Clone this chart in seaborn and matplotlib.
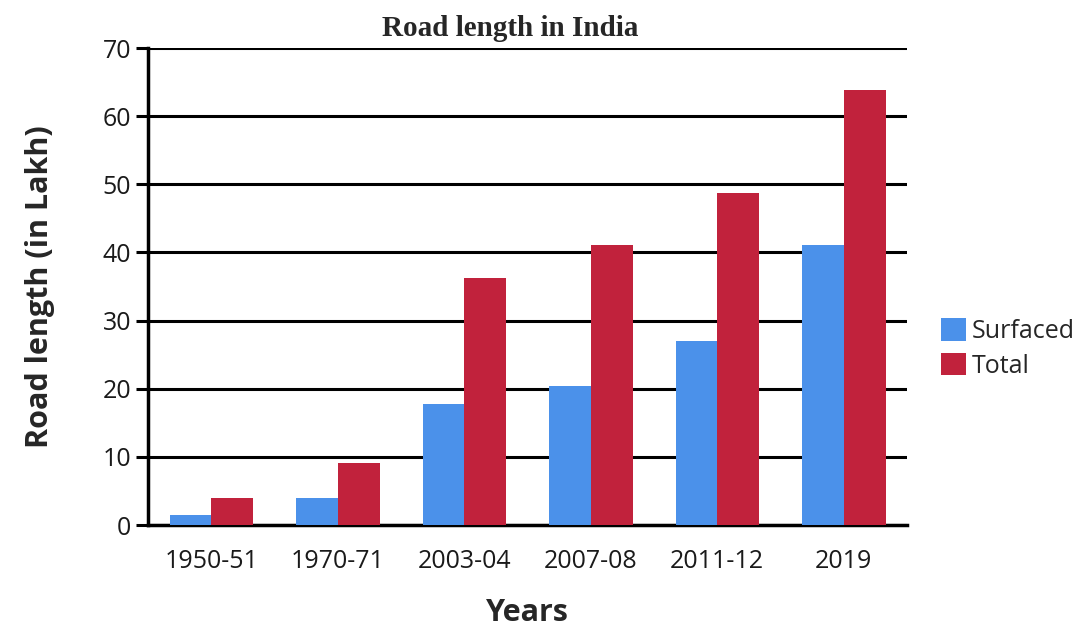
import matplotlib
matplotlib.use("Agg")
import matplotlib.pyplot as plt
import seaborn as sns
import pandas as pd

years = ["1950-51", "1970-71", "2003-04", "2007-08", "2011-12", "2019"]
surfaced = [1.5, 4.0, 17.8, 20.4, 27.0, 41.1]
total = [4.0, 9.1, 36.2, 41.1, 48.7, 63.8]
series = ["Surfaced", "Total"]
colors = ["#4b91ea", "#c1223c"]
yticks = [0, 10, 20, 30, 40, 50, 60, 70]

df = pd.DataFrame({
    "Year": years * 2,
    "Value": surfaced + total,
    "Series": [series[0]] * len(years) + [series[1]] * len(years),
})

sns.set_style("white")
plt.rcParams["font.family"] = ["Open Sans", "DejaVu Sans"]

fig = plt.figure(figsize=(10.78, 6.32), dpi=100)
ax = fig.add_axes([0.1373, 0.1693, 0.7041, 0.7547])

sns.barplot(data=df, x="Year", y="Value", hue="Series", palette=colors,
            width=0.66, saturation=1, ax=ax, zorder=3, legend=True,
            linewidth=0, edgecolor="none")

ax.set_xlim(-0.5, 5.5)
ax.set_ylim(0, 70)
ax.set_yticks(yticks)
ax.yaxis.grid(True, color="black", linewidth=2.2, zorder=0)
ax.set_axisbelow(True)
for s in ["top", "right"]:
    ax.spines[s].set_visible(False)
ax.spines["left"].set_color("black")
ax.spines["left"].set_linewidth(2.5)
ax.spines["bottom"].set_color("black")
ax.spines["bottom"].set_linewidth(2.5)
ax.tick_params(axis="y", left=True, length=9, width=2.2, color="black",
               labelsize=18, labelcolor="#1a1a1a", pad=3)
ax.tick_params(axis="x", bottom=False, labelsize=18, labelcolor="#1a1a1a", pad=14)

ax.set_xlabel("Years", fontsize=22, fontweight="bold", labelpad=17)
ax.set_ylabel("Road length (in Lakh)", fontsize=22, fontweight="bold", labelpad=34)
fig.text(0.473, 0.955, "Road length in India", ha="center", va="center",
         fontsize=21, fontweight="bold", family="Liberation Serif")

leg = ax.legend(loc="center left", bbox_to_anchor=(1.015, 0.37), frameon=False,
                fontsize=18, handlelength=1.0, handleheight=1.0,
                handletextpad=0.25, labelspacing=0.35)

fig.savefig("out.png", dpi=100)
